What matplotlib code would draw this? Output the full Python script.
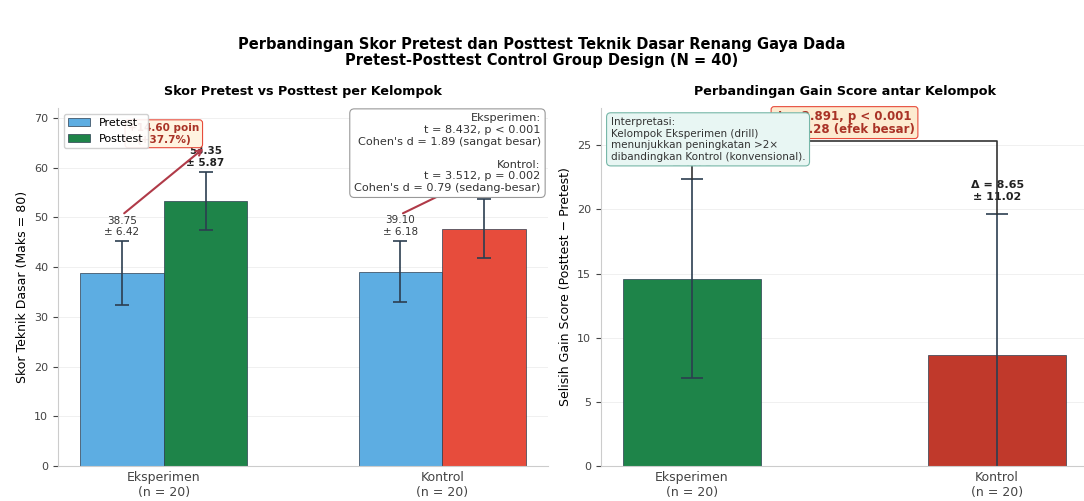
import numpy as np
import matplotlib
matplotlib.use("Agg")
import matplotlib.pyplot as plt

# =========================
# Data
# =========================
kelompok = ["Eksperimen\n(n = 20)", "Kontrol\n(n = 20)"]
pre_mean = [38.75, 39.10]
pre_sd = [6.42, 6.18]
post_mean = [53.35, 47.75]
post_sd = [5.87, 5.99]
gain_mean = [14.60, 8.65]
gain_sd = [7.75, 11.02]

stat_text = ("Eksperimen:\nt = 8.432, p < 0.001\nCohen's d = 1.89 (sangat besar)\n\n"
             "Kontrol:\nt = 3.512, p = 0.002\nCohen's d = 0.79 (sedang-besar)")
sig_text = "t = 2.891, p < 0.001\nd = 1.28 (efek besar)"
interp_text = ("Interpretasi:\nKelompok Eksperimen (drill)\n"
               "menunjukkan peningkatan >2×\ndibandingkan Kontrol (konvensional).")

# warna
c_pre = "#5DADE2"
c_post = ["#1E8449", "#E74C3C"]
c_gain = ["#1E8449", "#C0392B"]
c_arrow = "#B03A48"
c_err = "#2C3E50"

plt.rcParams["font.family"] = "DejaVu Sans"

fig = plt.figure(figsize=(10.84, 5.01), dpi=100)
W, H = 1084, 501
ax1 = fig.add_axes([58 / W, 35 / H, 490 / W, 358 / H])
ax2 = fig.add_axes([601 / W, 35 / H, 487 / W, 358 / H])

fig.suptitle("Perbandingan Skor Pretest dan Posttest Teknik Dasar Renang Gaya Dada\n"
             "Pretest-Posttest Control Group Design (N = 40)",
             fontsize=10.5, fontweight="bold", y=0.927, linespacing=1.1)

# =========================
# Panel kiri: pretest vs posttest
# =========================
x = np.arange(len(kelompok))
w = 0.3
ax1.bar(x - w / 2, pre_mean, w, yerr=pre_sd, color=c_pre, edgecolor=c_err, linewidth=0.5,
        capsize=5, error_kw=dict(ecolor=c_err, elinewidth=1.2, capthick=1.2), label="Pretest", zorder=2)
ax1.bar(x + w / 2, post_mean, w, yerr=post_sd, color=c_post, edgecolor=c_err, linewidth=0.5,
        capsize=5, error_kw=dict(ecolor=c_err, elinewidth=1.2, capthick=1.2), label="Posttest", zorder=2)

for i in range(len(kelompok)):
    pre_top = pre_mean[i] + pre_sd[i]
    post_top = post_mean[i] + post_sd[i]
    ax1.text(x[i] - w / 2, pre_top + 0.8, f"{pre_mean[i]:.2f}\n± {pre_sd[i]:.2f}",
             ha="center", va="bottom", fontsize=7.5, color="#333333", zorder=3)
    ax1.text(x[i] + w / 2, post_top + 0.8, f"{post_mean[i]:.2f}\n± {post_sd[i]:.2f}",
             ha="center", va="bottom", fontsize=7.5, fontweight="bold", color="#222222", zorder=3)
    ax1.annotate("", xy=(x[i] + w / 2, post_top + 5), xytext=(x[i] - w / 2, pre_top + 5.3),
                 arrowprops=dict(arrowstyle="->", color=c_arrow, lw=1.5), zorder=3)
    naik = post_mean[i] - pre_mean[i]
    persen = naik / pre_mean[i] * 100
    ax1.text(x[i], post_top + 7.6, f"+{naik:.2f} poin\n(+{persen:.1f}%)", ha="center", va="center",
             fontsize=7.5, fontweight="bold", color="#A93226", zorder=3,
             bbox=dict(boxstyle="round,pad=0.3", facecolor="#FFF3E0", edgecolor="#E74C3C", lw=0.8))

ax1.text(0.985, 0.985, stat_text, transform=ax1.transAxes, ha="right", va="top", fontsize=8.1,
         color="#333333", zorder=6,
         bbox=dict(boxstyle="round,pad=0.4", facecolor="white", edgecolor="#999999", lw=0.8))

ax1.set_xticks(x)
ax1.set_xticklabels(kelompok)
ax1.set_ylim(0, 72)
ax1.set_ylabel("Skor Teknik Dasar (Maks = 80)", fontsize=9)
ax1.set_title("Skor Pretest vs Posttest per Kelompok", fontsize=9.2, fontweight="bold", pad=9)
leg = ax1.legend(loc="upper left", fontsize=8, framealpha=0.9)
leg.set_zorder(7)

# =========================
# Panel kanan: gain score
# =========================
wg = 0.45
ax2.bar(x, gain_mean, wg, yerr=gain_sd, color=c_gain, edgecolor=c_err, linewidth=0.5,
        capsize=8, error_kw=dict(ecolor=c_err, elinewidth=1.2, capthick=1.2), zorder=2)

for i in range(len(kelompok)):
    top = gain_mean[i] + gain_sd[i]
    ax2.text(x[i], top + 0.9, f"Δ = {gain_mean[i]:.2f}\n± {gain_sd[i]:.2f}", ha="center", va="bottom",
             fontsize=8, fontweight="bold", color="#222222", zorder=3)

tops = [gain_mean[i] + gain_sd[i] for i in range(len(kelompok))]
h = max(tops) + 3
ax2.plot([x[0], x[0], x[1], x[1]], [tops[0], h, h, tops[1]], color="#333333", lw=1.2, zorder=3)
ax2.text((x[0] + x[1]) / 2, h + 0.4, sig_text, ha="center", va="bottom", fontsize=8.5,
         fontweight="bold", color="#A93226", zorder=4, linespacing=1.0,
         bbox=dict(boxstyle="round,pad=0.25", facecolor="#FDEBD0", edgecolor="#E74C3C", lw=0.8))

ax2.text(0.02, 0.975, interp_text, transform=ax2.transAxes, ha="left", va="top", fontsize=7.5,
         color="#333333", zorder=6,
         bbox=dict(boxstyle="round,pad=0.4", facecolor="#E8F6F3", edgecolor="#76B7A8", lw=0.8))

ax2.set_xticks(x)
ax2.set_xticklabels(kelompok)
ax2.set_ylim(0, 27.9)
ax2.set_ylabel("Selisih Gain Score (Posttest − Pretest)", fontsize=9)
ax2.set_title("Perbandingan Gain Score antar Kelompok", fontsize=9.2, fontweight="bold", pad=9)

for ax in (ax1, ax2):
    ax.spines["top"].set_visible(False)
    ax.spines["right"].set_visible(False)
    ax.spines["left"].set_color("#CCCCCC")
    ax.spines["bottom"].set_color("#CCCCCC")
    ax.tick_params(axis="both", labelsize=8, colors="#444444")
    ax.tick_params(axis="x", labelsize=9, length=0)
    ax.yaxis.grid(True, color="#EEEEEE", lw=0.6, zorder=0)
    ax.set_axisbelow(True)

fig.savefig("out.png", dpi=100)
